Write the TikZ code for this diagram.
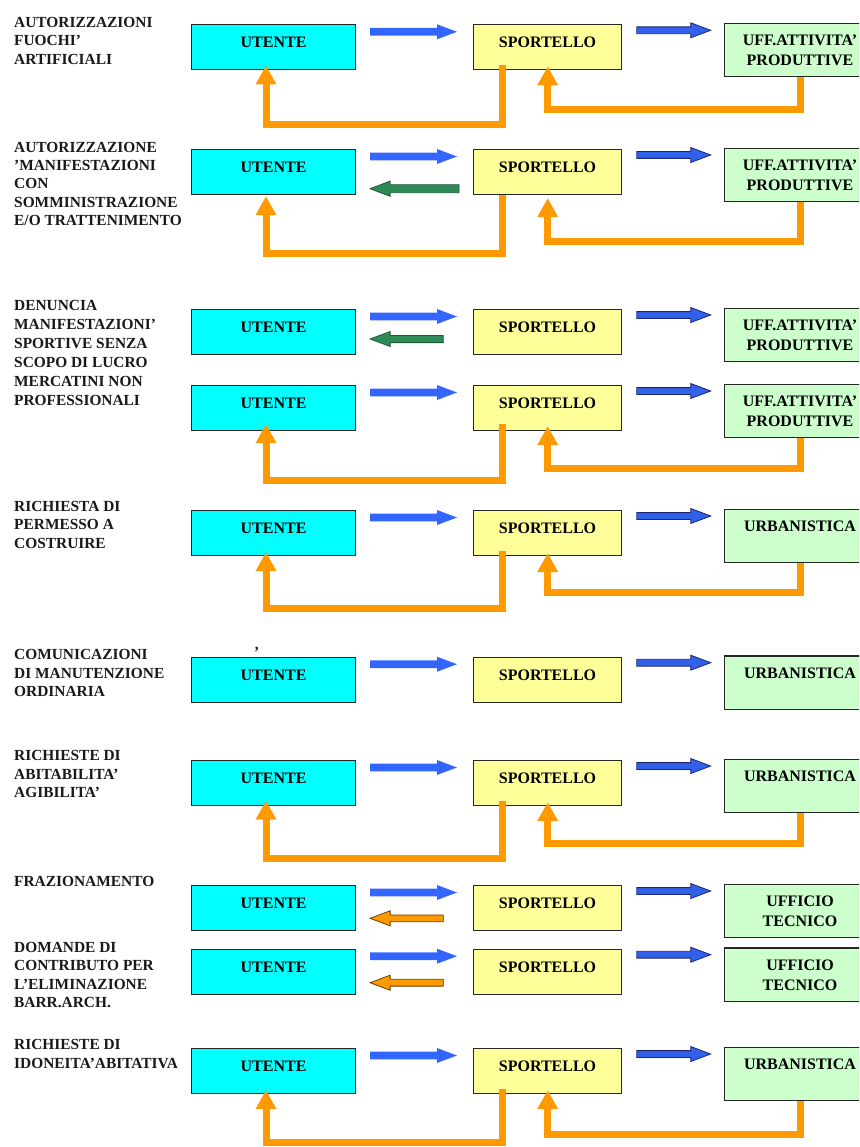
\documentclass[tikz,border=0pt]{standalone}
\usepackage{fontspec}
\setmainfont{Liberation Serif}
\usetikzlibrary{calc,arrows.meta}
\definecolor{ucyan}{HTML}{00FFFF}
\definecolor{syel}{HTML}{FFFF99}
\definecolor{ogreen}{HTML}{CCFFCC}
\definecolor{lblue}{HTML}{3366FF}
\definecolor{dblue}{HTML}{3360E8}
\definecolor{dbline}{HTML}{1A2A70}
\definecolor{bgreen}{HTML}{2E8B57}
\definecolor{bgline}{HTML}{1E5A3A}
\definecolor{orng}{HTML}{FF9900}
\definecolor{orline}{HTML}{6A4000}
\definecolor{boxline}{HTML}{262626}
\tikzset{
 boxbase/.style={draw=boxline, line width=1.1pt, anchor=north west, inner sep=0pt, minimum height=45pt},
 ubox/.style={boxbase, fill=ucyan, minimum width=164pt},
 sbox/.style={boxbase, fill=syel, minimum width=148.6pt},
 gbox/.style={boxbase, fill=ogreen, minimum width=151pt, minimum height=53.4pt},
 btxt/.style={font=\fontsize{16}{20}\selectfont\bfseries, anchor=base, inner sep=0pt},
 labtxt/.style={font=\fontsize{15.4}{18.5}\selectfont\bfseries, anchor=base west, inner sep=0pt, text=black!90},
 lbarrow/.style={fill=lblue},
 dbarrow/.style={fill=dblue, draw=dbline, line width=0.8pt},
 gbarrow/.style={fill=bgreen, draw=bgline, line width=0.8pt},
 obarrow/.style={fill=orng, draw=orline, line width=0.8pt},
 oloop/.style={draw=orng, line width=7pt, line join=miter, -{Triangle[length=19pt,width=19.5pt]}},
}
% boxes
\newcommand\ubx[2]{\node[ubox] (u#1) at (191,#2) {}; \node[btxt] (u#1t) at ($(u#1.north)+(0,23.5)$) {UTENTE};}
\newcommand\sbx[2]{\node[sbox] (s#1) at (472.7,#2) {}; \node[btxt] (s#1t) at ($(s#1.north)+(0,23.5)$) {SPORTELLO};}
\newcommand\gbx[3]{\node[gbox] (g#1) at (724,#2) {}; \foreach \t [count=\k] in {#3} \node[btxt] (g#1t\k) at ($(g#1.north)+(0,{3+20*\k})$) {\t};}
% labels
\newcommand\lab[4]{\foreach \t [count=\i] in {#4} \node[labtxt] (#1-\i) at (14,{#2+(\i-1)*#3}) {\t};}
% block arrow: style, from, to, shaft half width, head half width
\newcommand\blk[5]{\path[#1] let \p1=#2, \p2=#3, \n1={sign(\x2-\x1)} in
 (\x1,{\y1+#4}) -- ({\x2-\n1*20pt},{\y1+#4}) -- ({\x2-\n1*20pt},{\y1+#5}) -- (\x2,\y1)
 -- ({\x2-\n1*20pt},{\y1-#5}) -- ({\x2-\n1*20pt},{\y1-#4}) -- (\x1,{\y1-#4}) -- cycle;}
% standard forward arrows of a row
\newcommand\fwd[1]{%
 \blk{lbarrow}{($(u#1.north east)+(14,7.5)$)}{($(s#1.north west)+(-15.7,0)$)}{3.8pt}{7.5pt}
 \blk{dbarrow}{($(s#1.north east)+(14.4,6)$)}{($(g#1.north west)+(-13.3,0)$)}{3.4pt}{7.5pt}}
% loops: row, start offset, length, tip offset
\newcommand\loopA[4]{\draw[oloop] ($(s#1.south west)+(29.5,#2)$) -- ++(0,#3) -| ($(u#1.south west)+(75,#4)$);}
\newcommand\loopB[3]{\draw[oloop] ($(g#1.south west)+(76,0)$) -- ++(0,#2) -| ($(s#1.south west)+(75,#3)$);}
\begin{document}
\begin{tikzpicture}[x=1pt,y=-1pt]
\useasboundingbox (0,0) rectangle (859,1147);
\fill[white] (0,0) rectangle (859,1147);
\clip (0,0) rectangle (859,1147);

% ---------- Row 1
\lab{L1}{27.3}{18.4}{AUTORIZZAZIONI,FUOCHI’,ARTIFICIALI}
\ubx{1}{24.3}\sbx{1}{24.3}\gbx{1}{23}{UFF.ATTIVITA’,PRODUTTIVE}
\fwd{1}
\loopA{1}{-5}{58.7}{-5}
\loopB{1}{31.9}{-4}

% ---------- Row 2
\lab{L2}{152.3}{18.25}{AUTORIZZAZIONE,’MANIFESTAZIONI,CON,SOMMINISTRAZIONE,E/O TRATTENIMENTO}
\ubx{2}{149}\sbx{2}{149}\gbx{2}{147.7}{UFF.ATTIVITA’,PRODUTTIVE}
\fwd{2}
\blk{gbarrow}{($(s2.north west)+(-13.7,39.7)$)}{($(u2.north east)+(14,0)$)}{4pt}{7.6pt}
\loopA{2}{0}{58.5}{1}
\loopB{2}{38.9}{3}

% ---------- Row 3
\lab{L3}{310}{19}{DENUNCIA,MANIFESTAZIONI’,SPORTIVE SENZA,SCOPO DI LUCRO,MERCATINI NON,PROFESSIONALI}
\ubx{3}{309}\sbx{3}{309}\gbx{3}{307.7}{UFF.ATTIVITA’,PRODUTTIVE}
\fwd{3}
\blk{gbarrow}{($(s3.north west)+(-29.4,30)$)}{($(u3.north east)+(14,0)$)}{3.6pt}{7.5pt}
\ubx{4}{385}\sbx{4}{385}\gbx{4}{383.7}{UFF.ATTIVITA’,PRODUTTIVE}
\fwd{4}
\loopA{4}{-7}{56.5}{-7}
\loopB{4}{30.4}{-5}

% ---------- Row 4
\lab{L4}{511}{18.5}{RICHIESTA DI,PERMESSO A,COSTRUIRE}
\ubx{5}{510}\sbx{5}{510}\gbx{5}{508.7}{URBANISTICA}
\fwd{5}
\loopA{5}{-5}{57}{-4}
\loopB{5}{29.6}{-3}

% ---------- Row 5
\lab{L5}{659.3}{18.7}{COMUNICAZIONI,DI MANUTENZIONE,ORDINARIA}
\node[labtxt] (apo) at (254,657) {’};
\ubx{6}{656.7}\sbx{6}{656.7}\gbx{6}{655.4}{URBANISTICA}
\fwd{6}

% ---------- Row 6
\lab{L6}{760.7}{18.3}{RICHIESTE DI,ABITABILITA’,AGIBILITA’}
\ubx{7}{760}\sbx{7}{760}\gbx{7}{758.7}{URBANISTICA}
\fwd{7}
\loopA{7}{-5}{57}{-5.5}
\loopB{7}{30}{-4}

% ---------- Row 7
\lab{L7}{886.7}{18.5}{FRAZIONAMENTO}
\ubx{8}{885}\sbx{8}{885}\gbx{8}{883.7}{UFFICIO,TECNICO}
\fwd{8}
\blk{obarrow}{($(s8.north west)+(-29.4,33.3)$)}{($(u8.north east)+(14,0)$)}{3.4pt}{7.5pt}
\lab{L8}{952.7}{18.2}{DOMANDE DI,CONTRIBUTO PER,L’ELIMINAZIONE,BARR.ARCH.}
\ubx{9}{948.7}\sbx{9}{948.7}\gbx{9}{947.4}{UFFICIO,TECNICO}
\fwd{9}
\blk{obarrow}{($(s9.north west)+(-29.4,34)$)}{($(u9.north east)+(14,0)$)}{3.4pt}{7.5pt}

% ---------- Row 8
\lab{L9}{1049}{19}{RICHIESTE DI,IDONEITA’ABITATIVA}
\ubx{10}{1048}\sbx{10}{1048}\gbx{10}{1046.7}{URBANISTICA}
\fwd{10}
\loopA{10}{-5}{53.5}{-4}
\loopB{10}{33.2}{-4}
\end{tikzpicture}
\end{document}
